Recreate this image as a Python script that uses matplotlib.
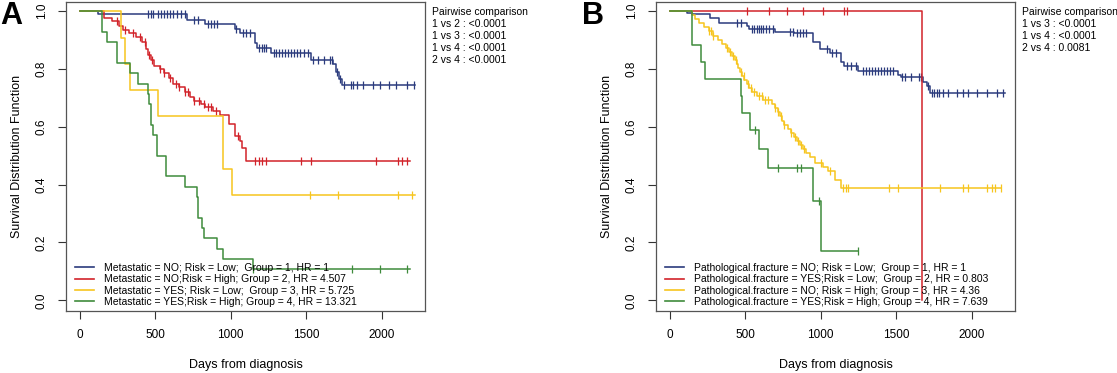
import numpy as np
import matplotlib
matplotlib.use('Agg')
import matplotlib.pyplot as plt

plt.rcParams['font.family'] = ['Liberation Sans', 'DejaVu Sans']

COLORS = ['#2b3b7d', '#d2232a', '#f7c51e', '#3f8b3c']

# ---------- Panel A: Metastatic x Risk ----------
a_labels = ['Metastatic = NO; Risk = Low;  Group = 1, HR = 1',
            'Metastatic = NO;Risk = High; Group = 2, HR = 4.507',
            'Metastatic = YES; Risk = Low;  Group = 3, HR = 5.725',
            'Metastatic = YES;Risk = High; Group = 4, HR = 13.321']
a_pairwise = ['1 vs 2 : <0.0001', '1 vs 3 : <0.0001', '1 vs 4 : <0.0001', '2 vs 4 : <0.0001']

a1_t = [0, 119, 708, 829, 1025, 1058, 1162, 1175, 1263, 1528, 1675, 1697, 1718, 1735]
a1_s = [1.0, 0.990, 0.971, 0.955, 0.940, 0.923, 0.890, 0.873, 0.856, 0.833, 0.817, 0.790, 0.764, 0.744]
a1_c = [454, 470, 488, 520, 540, 560, 580, 600, 620, 645, 670, 696, 760, 785, 851, 870, 890, 906,
        1035, 1078, 1100, 1124, 1190, 1205, 1220, 1235, 1283, 1300, 1320, 1340, 1360, 1380, 1400,
        1420, 1440, 1460, 1485, 1508, 1541, 1575, 1618, 1655, 1673, 1705, 1725, 1750, 1797, 1810,
        1832, 1878, 1938, 1984, 2044, 2090, 2163, 2210]
a1_end = 2222

a2_t = [0, 160, 215, 260, 285, 330, 370, 410, 440, 455, 470, 495, 530, 560, 590, 620, 660, 700,
        730, 760, 800, 830, 880, 930, 990, 1030, 1060, 1075, 1100]
a2_s = [1.0, 0.978, 0.966, 0.950, 0.936, 0.925, 0.910, 0.893, 0.870, 0.850, 0.830, 0.812, 0.800,
        0.785, 0.768, 0.750, 0.738, 0.722, 0.705, 0.690, 0.680, 0.670, 0.655, 0.640, 0.610, 0.570,
        0.550, 0.528, 0.482]
a2_c = [250, 300, 350, 400, 430, 460, 480, 530, 560, 600, 640, 660, 700, 720, 760, 790, 820, 850,
        870, 900, 1050, 1162, 1185, 1205, 1235, 1466, 1528, 1958, 2105, 2133, 2163]
a2_end = 2187

a3_t = [0, 274, 302, 333, 517, 947, 1005]
a3_s = [1.0, 0.909, 0.818, 0.727, 0.636, 0.455, 0.364]
a3_c = [1526, 1708, 2105, 2199]
a3_end = 2222

a4_t = [0, 145, 179, 245, 333, 388, 450, 458, 472, 487, 509, 569, 697, 774, 785, 807, 825, 906,
        950, 1146]
a4_s = [1.0, 0.929, 0.893, 0.821, 0.786, 0.750, 0.714, 0.679, 0.607, 0.571, 0.500, 0.429, 0.393,
        0.357, 0.286, 0.250, 0.214, 0.179, 0.143, 0.107]
a4_c = [1146, 1803, 1984, 2163]
a4_end = 2187

# ---------- Panel B: Pathological fracture x Risk ----------
b_labels = ['Pathological.fracture = NO; Risk = Low;  Group = 1, HR = 1',
            'Pathological.fracture = YES;Risk = Low;  Group = 2, HR = 0.803',
            'Pathological.fracture = NO; Risk = High; Group = 3, HR = 4.36',
            'Pathological.fracture = YES;Risk = High; Group = 4, HR = 7.639']
b_pairwise = ['1 vs 3 : <0.0001', '1 vs 4 : <0.0001', '2 vs 4 : 0.0081']

b1_t = [0, 118, 147, 268, 330, 511, 526, 698, 823, 947, 995, 1062, 1134, 1157, 1249, 1509, 1530,
        1679, 1700, 1723]
b1_s = [1.0, 0.994, 0.990, 0.978, 0.961, 0.948, 0.940, 0.929, 0.923, 0.894, 0.871, 0.854, 0.825,
        0.810, 0.794, 0.779, 0.771, 0.756, 0.741, 0.718]
b1_c = [449, 471, 544, 560, 575, 590, 605, 620, 640, 660, 687, 797, 819, 840, 860, 880, 900, 1040,
        1075, 1100, 1175, 1200, 1230, 1280, 1300, 1320, 1340, 1360, 1380, 1400, 1420, 1440, 1460,
        1480, 1535, 1560, 1600, 1650, 1665, 1710, 1734, 1751, 1767, 1782, 1810, 1844, 1899, 1943,
        1976, 2031, 2098, 2169, 2205]
b1_end = 2216

b2_t = [0, 1668]
b2_s = [1.0, 0.0]
b2_c = [511, 660, 779, 885, 1017, 1154, 1176]
b2_end = 1668

b3_t = [0, 147, 170, 195, 225, 260, 290, 320, 345, 370, 390, 410, 430, 445, 455, 465, 480, 495,
        510, 525, 545, 580, 620, 680, 700, 715, 730, 745, 760, 780, 800, 820, 840, 860, 880, 905,
        930, 960, 1017, 1050, 1095, 1134]
b3_s = [1.0, 0.986, 0.972, 0.958, 0.944, 0.930, 0.916, 0.902, 0.888, 0.874, 0.860, 0.846, 0.832,
        0.818, 0.804, 0.790, 0.776, 0.762, 0.748, 0.734, 0.720, 0.706, 0.692, 0.678, 0.664, 0.650,
        0.636, 0.622, 0.608, 0.594, 0.580, 0.566, 0.552, 0.538, 0.524, 0.510, 0.496, 0.474, 0.462,
        0.448, 0.416, 0.387]
b3_c = [260, 275, 290, 380, 400, 420, 440, 470, 490, 520, 540, 560, 590, 610, 630, 650, 700, 720,
        740, 760, 800, 830, 850, 870, 890, 1000, 1060, 1148, 1165, 1182, 1452, 1513, 1789, 1943,
        1976, 2100, 2130, 2150, 2193]
b3_end = 2193

b4_t = [0, 147, 206, 235, 472, 480, 532, 594, 654, 947, 1002]
b4_s = [1.0, 0.882, 0.824, 0.765, 0.706, 0.647, 0.588, 0.523, 0.458, 0.343, 0.172]
b4_c = [568, 720, 841, 868, 989, 1245]
b4_end = 1245

W, H = 1117, 373
fig = plt.figure(figsize=(W / 100, H / 100), dpi=100)


def km(ax, t, s, cens, end, color):
    t = np.asarray(t, float)
    s = np.asarray(s, float)
    ax.step(np.append(t, end), np.append(s, s[-1]), where='post', color=color, lw=1.1)
    cens = np.asarray(cens, float)
    cs = s[np.searchsorted(t, cens, side='right') - 1]
    ax.plot(cens, cs, ls='none', marker='|', ms=6, mew=0.9, color=color)


def panel(left, groups, labels, pairwise, letter, letter_x):
    ax = fig.add_axes([left / W, (H - 311) / H, 359 / W, 309.3 / H])
    for (t, s, c, e), col in zip(groups, COLORS):
        km(ax, t, s, c, e, col)
    ax.set_xlim(-90, 2285)
    ax.set_ylim(-0.037, 1.033)
    ax.set_xticks([0, 500, 1000, 1500, 2000])
    ax.set_yticks([0, 0.2, 0.4, 0.6, 0.8, 1.0])
    ax.set_yticklabels(['0.0', '0.2', '0.4', '0.6', '0.8', '1.0'], rotation=90, va='center')
    ax.tick_params(length=6, width=0.8, color='#333333', labelsize=8.5, pad=7)
    for sp in ax.spines.values():
        sp.set_color('#555555')
        sp.set_linewidth(0.9)
    ax.set_xlabel('Days from diagnosis', fontsize=9, labelpad=13)
    ax.set_ylabel('Survival Distribution Function', fontsize=9, labelpad=9)

    handles = [plt.Line2D([], [], color=c, lw=1.2) for c in COLORS]
    ax.legend(handles, labels, loc='lower left', bbox_to_anchor=(0.02, 0.007),
              frameon=False, fontsize=7.5, handlelength=1.8, handletextpad=0.95,
              labelspacing=0.12, borderpad=0.2, borderaxespad=0.0)

    tx = (left + 366) / W
    lines = ['Pairwise comparison'] + pairwise
    for i, ln in enumerate(lines):
        fig.text(tx, 1 - (12 + 12.1 * i) / H, ln, fontsize=7.5, va='center', ha='left')
    fig.text(letter_x / W, 1 - 16 / H, letter, fontsize=22, fontweight='bold',
             va='center', ha='left')
    return ax


panel(66, [(a1_t, a1_s, a1_c, a1_end), (a2_t, a2_s, a2_c, a2_end),
           (a3_t, a3_s, a3_c, a3_end), (a4_t, a4_s, a4_c, a4_end)],
      a_labels, a_pairwise, 'A', 0)
panel(656, [(b1_t, b1_s, b1_c, b1_end), (b2_t, b2_s, b2_c, b2_end),
            (b3_t, b3_s, b3_c, b3_end), (b4_t, b4_s, b4_c, b4_end)],
      b_labels, b_pairwise, 'B', 582)

fig.savefig('out.png', dpi=100)
